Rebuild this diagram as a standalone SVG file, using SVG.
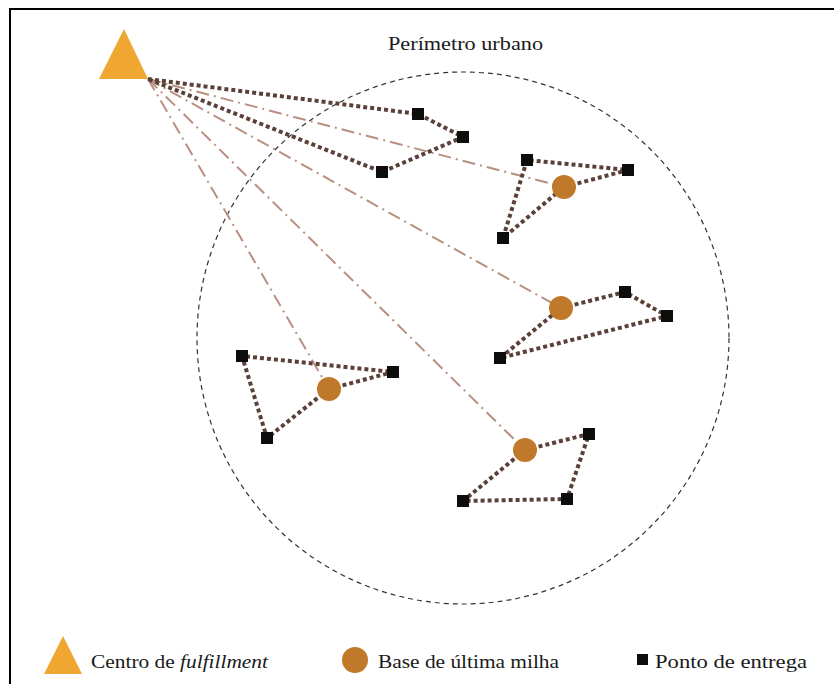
<svg xmlns="http://www.w3.org/2000/svg" width="834" height="684" viewBox="0 0 834 684">
<style>
.txt{font-family:"Liberation Serif","DejaVu Serif",serif;fill:#1a1a1a}
.route{fill:none;stroke:#5a4038;stroke-width:4;stroke-dasharray:4 3}
.link{fill:none;stroke:#b99080;stroke-width:2;stroke-dasharray:13 5 2 5}
.pt{fill:#0d0d0d}
.base{fill:#c0782a}
.fc{fill:#f0a732}
</style>
<defs>
<rect id="sq" x="-6" y="-6" width="12" height="12" class="pt"/>
</defs>
<rect width="834" height="684" fill="#fff"/>
<rect x="10" y="9" width="900" height="900" fill="none" stroke="#000" stroke-width="2"/>
<g id="perimetro">
<circle cx="463" cy="338" r="266" fill="none" stroke="#333" stroke-width="1.2" stroke-dasharray="5 4"/>
<text class="txt" x="388" y="50" font-size="19" textLength="155" lengthAdjust="spacingAndGlyphs">Perímetro urbano</text>
</g>
<g id="connectors">
<line class="link" x1="148" y1="79" x2="564" y2="187"/>
<line class="link" x1="148" y1="79" x2="561" y2="308"/>
<line class="link" x1="148" y1="79" x2="329" y2="389"/>
<line class="link" x1="148" y1="79" x2="525" y2="450"/>
<polyline class="route" points="148,79 418,114 463,137 382,172 148,79"/>
<polyline class="route" points="564,187 628,170 527,160 503,238 564,187"/>
<polyline class="route" points="561,308 625,292 667,316 500,358 561,308"/>
<polyline class="route" points="329,389 393,372 242,356 267,438 329,389"/>
<polyline class="route" points="525,450 589,434 567,499 463,501 525,450"/>
</g>
<g id="fulfillment"><polygon class="fc" points="124,29 148,79 99,79"/></g>
<g id="base1"><circle class="base" cx="564" cy="187" r="12"/></g>
<g id="base2"><circle class="base" cx="561" cy="308" r="12"/></g>
<g id="base3"><circle class="base" cx="329" cy="389" r="12"/></g>
<g id="base4"><circle class="base" cx="525" cy="450" r="12"/></g>
<g id="pontos">
<use href="#sq" x="418" y="114"/>
<use href="#sq" x="463" y="137"/>
<use href="#sq" x="382" y="172"/>
<use href="#sq" x="527" y="160"/>
<use href="#sq" x="628" y="170"/>
<use href="#sq" x="503" y="238"/>
<use href="#sq" x="625" y="292"/>
<use href="#sq" x="667" y="316"/>
<use href="#sq" x="500" y="358"/>
<use href="#sq" x="242" y="356"/>
<use href="#sq" x="393" y="372"/>
<use href="#sq" x="267" y="438"/>
<use href="#sq" x="589" y="434"/>
<use href="#sq" x="567" y="499"/>
<use href="#sq" x="463" y="501"/>
</g>
<g id="legenda">
<polygon class="fc" points="63,636 82,674 44,674"/>
<text class="txt" x="91" y="668" font-size="19" textLength="177" lengthAdjust="spacingAndGlyphs">Centro de <tspan font-style="italic">fulfillment</tspan></text>
<circle class="base" cx="355" cy="660" r="13"/>
<text class="txt" x="378" y="668" font-size="19" textLength="181" lengthAdjust="spacingAndGlyphs">Base de última milha</text>
<rect class="pt" x="637" y="654" width="11" height="11"/>
<text class="txt" x="655" y="668" font-size="19" textLength="152" lengthAdjust="spacingAndGlyphs">Ponto de entrega</text>
</g>
</svg>
